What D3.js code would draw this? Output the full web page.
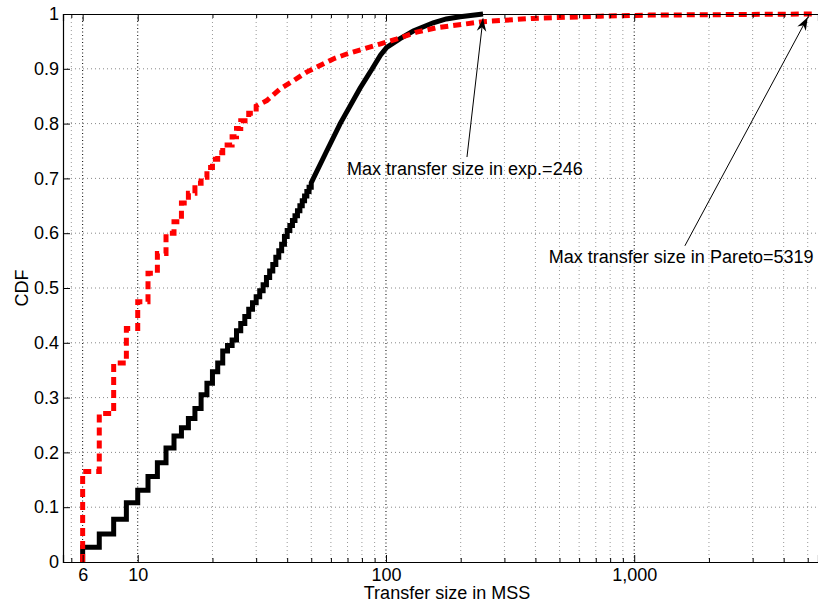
<!DOCTYPE html>
<html>
<head>
<meta charset="utf-8">
<script src="https://cdn.jsdelivr.net/npm/d3@7"></script>
<style>
  body { margin: 0; background: #fff; }
  text { font-family: "Liberation Sans", Arial, Helvetica, sans-serif; }
</style>
</head>
<body>
<div id="chart"></div>
<script>
// ---- data ----
// measured CDF ("exp."), step part: [transfer size, CDF after step]
const expSteps = [
  [6, 0.027], [7, 0.051], [8, 0.078], [9, 0.108], [10, 0.131], [11, 0.156],
  [12, 0.181], [13, 0.208], [14, 0.230], [15, 0.245], [16, 0.262], [17, 0.280],
  [18, 0.305], [19, 0.326], [20, 0.347], [21, 0.363], [22, 0.385], [23, 0.395],
  [24, 0.405], [25, 0.422], [26, 0.435], [27, 0.448], [28, 0.461], [29, 0.473],
  [30, 0.484], [31, 0.495], [32, 0.506], [33, 0.519], [34, 0.531], [35, 0.543],
  [36, 0.556], [37, 0.568], [38, 0.580], [39, 0.594], [40, 0.605], [41, 0.614],
  [42, 0.623], [43, 0.632], [44, 0.641], [45, 0.650], [46, 0.659], [47, 0.668],
  [48, 0.676], [49, 0.684], [50, 0.692]
];
// measured CDF, dense tail
const expTail = [
  [50, 0.692], [51, 0.700], [57, 0.745], [65.4, 0.800], [78.5, 0.864],
  [88, 0.900], [95, 0.925], [100.7, 0.939], [114, 0.955], [128.8, 0.969],
  [155, 0.984], [175, 0.991], [199, 0.995], [246, 1.0]
];
// Pareto CDF, step part
const paretoSteps = [
  [6, 0.165], [7, 0.271], [8, 0.363], [9, 0.426], [10, 0.475], [11, 0.527],
  [12, 0.563], [13, 0.600], [14, 0.621], [15, 0.655], [16, 0.673], [17, 0.691],
  [18, 0.702], [19, 0.720], [20, 0.735], [21, 0.747], [22, 0.761], [24, 0.776],
  [25, 0.791], [26, 0.805], [28, 0.819], [30, 0.832]
];
// Pareto CDF, dense tail
const paretoTail = [
  [30, 0.832], [33.1, 0.842], [37.4, 0.863], [42.3, 0.878], [47.9, 0.894],
  [54.2, 0.906], [61.3, 0.918], [69.4, 0.927], [80.8, 0.936], [94.4, 0.945],
  [110, 0.954], [133, 0.967], [160, 0.975], [246, 0.986], [390, 0.992],
  [730, 0.996], [1150, 0.998], [2500, 0.999], [5319, 1.0]
];

const xMajorTicks = [6, 10, 100, 1000];
const xMinorTicks = [5.4, 20, 30, 40, 50, 60, 70, 80, 90,
  200, 300, 400, 500, 600, 700, 800, 900, 2000, 3000, 4000, 5000];
const yTicks = [0, 0.1, 0.2, 0.3, 0.4, 0.5, 0.6, 0.7, 0.8, 0.9, 1];
const yTickLabels = ["0", "0.1", "0.2", "0.3", "0.4", "0.5", "0.6", "0.7", "0.8", "0.9", "1"];

// annotations: text anchor, arrow tail, arrow tip (data units)
const annExp = { label: "Max transfer size in exp.=246", text: [69.7, 0.706], from: [212, 0.739], to: [246, 0.992] };
const annPareto = { label: "Max transfer size in Pareto=5319", text: [453, 0.546], from: [1600, 0.577], to: [5000, 0.994] };

// ---- layout ----
const W = 818, H = 602;
const plotLeft = 63, plotTop = 14, plotBottom = 562;
const fontSize = 18;

const x = d3.scaleLog().domain([5, 5500]).range([plotLeft, 818]);
const y = d3.scaleLinear().domain([0, 1]).range([plotBottom, plotTop]);

const svg = d3.select("#chart").append("svg")
  .attr("width", W)
  .attr("height", H);

// grid
const grid = svg.append("g");
grid.selectAll("line.hy")
  .data(yTicks.slice(1, -1))
  .enter().append("line")
  .attr("x1", plotLeft).attr("x2", W)
  .attr("y1", d => y(d)).attr("y2", d => y(d))
  .attr("stroke", "#888").attr("stroke-dasharray", "1,3");
grid.selectAll("line.vmin")
  .data(xMinorTicks)
  .enter().append("line")
  .attr("x1", d => x(d)).attr("x2", d => x(d))
  .attr("y1", plotTop).attr("y2", plotBottom)
  .attr("stroke", "#999").attr("stroke-dasharray", "1,3");
grid.selectAll("line.vmaj")
  .data(xMajorTicks)
  .enter().append("line")
  .attr("x1", d => x(d)).attr("x2", d => x(d))
  .attr("y1", plotTop).attr("y2", plotBottom)
  .attr("stroke", "#000").attr("stroke-dasharray", "1,2.5");

// turn step data into corner points so one continuous path can be drawn
function corners(steps, tail) {
  const pts = [[steps[0][0], 0]];
  let prev = 0;
  steps.forEach(([v, c]) => { pts.push([v, prev]); pts.push([v, c]); prev = c; });
  return pts.concat(tail.slice(1));
}

const line = d3.line().x(d => x(d[0])).y(d => y(d[1]));

svg.append("path")
  .datum(corners(expSteps, expTail))
  .attr("d", line)
  .attr("fill", "none")
  .attr("stroke", "#000")
  .attr("stroke-width", 5)
  .attr("stroke-linejoin", "miter");

svg.append("path")
  .datum(corners(paretoSteps, paretoTail))
  .attr("d", line)
  .attr("fill", "none")
  .attr("stroke", "#ff0000")
  .attr("stroke-width", 5)
  .attr("stroke-dasharray", "8,5");

// axes
const axisG = svg.append("g");

axisG.append("g")
  .attr("transform", `translate(0,${plotBottom})`)
  .call(d3.axisBottom(x).tickValues(xMajorTicks).tickSize(-7).tickPadding(6)
    .tickFormat(d3.format(",")));
axisG.append("g")
  .attr("transform", `translate(0,${plotBottom})`)
  .call(d3.axisBottom(x).tickValues(xMinorTicks).tickSize(-4).tickFormat(""))
  .select(".domain").remove();
axisG.append("g")
  .attr("transform", `translate(0,${plotTop})`)
  .call(d3.axisTop(x).tickValues(xMajorTicks).tickSize(-7).tickFormat(""));
axisG.append("g")
  .attr("transform", `translate(0,${plotTop})`)
  .call(d3.axisTop(x).tickValues(xMinorTicks).tickSize(-4).tickFormat(""))
  .select(".domain").remove();
axisG.append("g")
  .attr("transform", `translate(${plotLeft},0)`)
  .call(d3.axisLeft(y).tickValues(yTicks).tickSize(-7).tickPadding(4)
    .tickFormat((d, i) => yTickLabels[i]));

axisG.selectAll("g").attr("font-family", null).attr("font-size", fontSize);
axisG.selectAll(".domain").attr("stroke", "#000").attr("stroke-width", 1.2);
axisG.selectAll(".tick line").attr("stroke", "#000");
axisG.selectAll(".tick text").attr("fill", "#000");

// axis titles
svg.append("text")
  .attr("x", 447).attr("y", 599)
  .attr("text-anchor", "middle")
  .attr("font-size", fontSize)
  .text("Transfer size in MSS");
svg.append("text")
  .attr("transform", `translate(28,288) rotate(-90)`)
  .attr("text-anchor", "middle")
  .attr("font-size", fontSize)
  .text("CDF");

// annotations
const defs = svg.append("defs");
defs.append("marker")
  .attr("id", "arrow")
  .attr("markerUnits", "userSpaceOnUse")
  .attr("markerWidth", 15).attr("markerHeight", 12)
  .attr("viewBox", "-14 -6 15 12")
  .attr("refX", 0).attr("refY", 0)
  .attr("orient", "auto")
  .append("path")
  .attr("d", "M0,0 L-13,-4.8 L-9,0 L-13,4.8 Z")
  .attr("fill", "#000");

[annExp, annPareto].forEach(a => {
  svg.append("line")
    .attr("x1", x(a.from[0])).attr("y1", y(a.from[1]))
    .attr("x2", x(a.to[0])).attr("y2", y(a.to[1]))
    .attr("stroke", "#000")
    .attr("stroke-width", 1)
    .attr("marker-end", "url(#arrow)");
  svg.append("text")
    .attr("x", x(a.text[0])).attr("y", y(a.text[1]))
    .attr("font-size", fontSize)
    .text(a.label);
});
</script>
</body>
</html>
